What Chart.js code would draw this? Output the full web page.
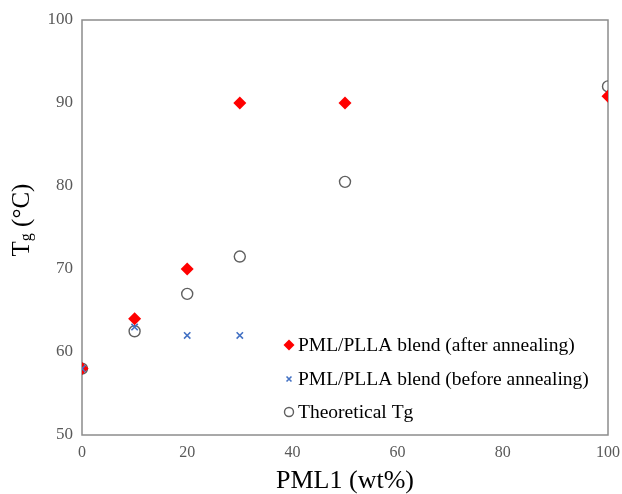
<!DOCTYPE html>
<html>
<head>
<meta charset="utf-8">
<script src="https://cdn.jsdelivr.net/npm/chart.js@4.4.0/dist/chart.umd.min.js"></script>
<style>
  html, body { margin: 0; padding: 0; background: #fff; }
  #wrap { width: 622px; height: 494px; position: relative; }
</style>
</head>
<body>
<div id="wrap"><canvas id="myChart"></canvas></div>
<script>
'use strict';

// PML1 content (wt%) and Tg values
const pmlAfter = [0, 10, 20, 30, 50, 100];
const tgAfter = [58, 64, 70, 90, 90, 90.8];

const pmlBefore = [0, 10, 20, 30];
const tgBefore = [58, 63, 62, 62];

const pmlTheory = [0, 10, 20, 30, 50, 100];
const tgTheory = [58, 62.5, 67, 71.5, 80.5, 92];

const legendLabels = [
  'PML/PLLA blend (after annealing)',
  'PML/PLLA blend (before annealing)',
  'Theoretical Tg',
];

const FONT = "'Liberation Serif', 'Times New Roman', serif";

const toPoints = (xs, ys) => xs.map((x, i) => ({ x: x, y: ys[i] }));

// frame around the plot area + y title with subscript + legend inside the plot
const extras = {
  id: 'extras',
  beforeDatasetsDraw(chart) {
    const { ctx, chartArea: a } = chart;
    ctx.save();
    ctx.strokeStyle = '#8c8c8c';
    ctx.lineWidth = 1.5;
    ctx.strokeRect(a.left, a.top, a.right - a.left, a.bottom - a.top);
    ctx.restore();
  },
  afterDraw(chart) {
    const { ctx } = chart;

    // y axis title: T with subscript g, then (°C)
    ctx.save();
    ctx.translate(22, 220);
    ctx.rotate(-Math.PI / 2);
    ctx.fillStyle = '#000';
    ctx.textBaseline = 'middle';
    ctx.font = '25px ' + FONT;
    const wT = ctx.measureText('T').width;
    ctx.font = '16px ' + FONT;
    const wg = ctx.measureText('g').width;
    ctx.font = '25px ' + FONT;
    const wRest = ctx.measureText(' (°C)').width;
    let x = -(wT + wg + wRest) / 2;
    ctx.textAlign = 'left';
    ctx.fillText('T', x, 0);
    x += wT;
    ctx.font = '16px ' + FONT;
    ctx.fillText('g', x, 5);
    x += wg;
    ctx.font = '25px ' + FONT;
    ctx.fillText(' (°C)', x, 0);
    ctx.restore();

    // legend
    const ds = chart.data.datasets;
    const legendOrder = [1, 0, 2];
    const rows = [345, 379, 412];
    ctx.save();
    ctx.font = '19.5px ' + FONT;
    ctx.textBaseline = 'middle';
    legendOrder.forEach((di, i) => {
      const d = ds[di];
      ctx.fillStyle = d.backgroundColor;
      ctx.strokeStyle = d.borderColor;
      ctx.lineWidth = d.borderWidth;
      Chart.helpers.drawPoint(ctx, {
        pointStyle: d.pointStyle,
        radius: di === 1 ? 5.5 : (di === 0 ? 3.5 : 4.5),
        borderWidth: d.borderWidth,
      }, 289, rows[i]);
      ctx.fillStyle = '#000';
      ctx.fillText(legendLabels[i], 298, rows[i] + 1);
    });
    ctx.restore();
  }
};

const data = {
  datasets: [
    {
      label: legendLabels[1],
      data: toPoints(pmlBefore, tgBefore),
      pointStyle: 'crossRot',
      pointRadius: 4.5,
      borderColor: '#4472C4',
      backgroundColor: '#4472C4',
      borderWidth: 1.6,
      order: 1,
    },
    {
      label: legendLabels[0],
      data: toPoints(pmlAfter, tgAfter),
      pointStyle: 'rectRot',
      pointRadius: 6.5,
      borderColor: '#FF0000',
      backgroundColor: '#FF0000',
      borderWidth: 0,
      order: 2,
    },
    {
      label: legendLabels[2],
      data: toPoints(pmlTheory, tgTheory),
      pointStyle: 'circle',
      pointRadius: 5.5,
      borderColor: '#5f5f5f',
      backgroundColor: 'rgba(255,255,255,0)',
      borderWidth: 1.4,
      order: 3,
    },
  ]
};

const config = {
  type: 'scatter',
  data: data,
  options: {
    responsive: true,
    maintainAspectRatio: false,
    animation: false,
    layout: { padding: { top: 20, right: 14, left: 0, bottom: 0 } },
    plugins: {
      legend: { display: false },
      tooltip: { enabled: false },
    },
    scales: {
      x: {
        type: 'linear',
        min: 0,
        max: 100,
        ticks: {
          stepSize: 20,
          padding: 8,
          color: '#595959',
          font: { family: FONT, size: 16 },
        },
        grid: { display: false, drawTicks: false },
        border: { display: false },
        title: {
          display: true,
          text: 'PML1 (wt%)',
          color: '#000',
          font: { family: FONT, size: 26 },
          padding: { top: 0, bottom: -3 },
        },
        afterFit(scale) {
          scale.height = 59;
          scale.paddingLeft = 0;
          scale.paddingRight = 0;
        },
      },
      y: {
        min: 50,
        max: 100,
        ticks: {
          stepSize: 10,
          padding: 9,
          color: '#595959',
          font: { family: FONT, size: 17 },
        },
        grid: { display: false, drawTicks: false },
        border: { display: false },
        afterFit(scale) {
          scale.width = 82;
          scale.paddingTop = 0;
          scale.paddingBottom = 0;
        },
      },
    },
  },
  plugins: [extras],
};

const myChart = new Chart(document.getElementById('myChart'), config);
</script>
</body>
</html>
